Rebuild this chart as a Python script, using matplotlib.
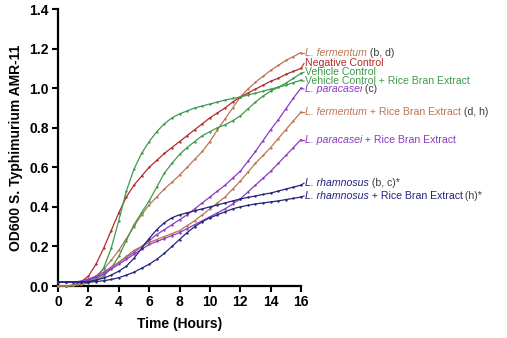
import numpy as np
import matplotlib
matplotlib.use("Agg")
import matplotlib.pyplot as plt

plt.rcParams['font.family'] = ['Liberation Sans', 'DejaVu Sans']

# Sampling times (hours)
time_h = np.arange(0, 16.01, 0.5)

# OD600 growth curves
negative_control = [0.0, 0.0, 0.005, 0.02, 0.05, 0.11, 0.19, 0.28, 0.37, 0.45, 0.51, 0.555, 0.6, 0.635,
                    0.67, 0.70, 0.73, 0.76, 0.79, 0.82, 0.85, 0.875, 0.9, 0.93, 0.955, 0.975, 0.995,
                    1.015, 1.035, 1.05, 1.07, 1.085, 1.10]
vehicle_control = [0.0, 0.0, 0.003, 0.008, 0.015, 0.03, 0.05, 0.09, 0.15, 0.23, 0.31, 0.37, 0.43, 0.5,
                   0.57, 0.62, 0.665, 0.70, 0.73, 0.76, 0.78, 0.80, 0.815, 0.835, 0.86, 0.895, 0.93,
                   0.96, 0.985, 1.005, 1.025, 1.05, 1.075]
vehicle_rbe = [0.0, 0.0, 0.003, 0.01, 0.02, 0.04, 0.09, 0.19, 0.33, 0.48, 0.59, 0.67, 0.73, 0.78,
               0.82, 0.85, 0.87, 0.885, 0.9, 0.91, 0.92, 0.93, 0.94, 0.948, 0.955, 0.965, 0.975,
               0.985, 0.995, 1.005, 1.015, 1.028, 1.04]
fermentum = [0.0, 0.0, 0.003, 0.01, 0.025, 0.05, 0.085, 0.13, 0.18, 0.24, 0.30, 0.36, 0.41, 0.45,
             0.49, 0.525, 0.56, 0.60, 0.64, 0.68, 0.73, 0.79, 0.845, 0.90, 0.955, 0.995, 1.03,
             1.06, 1.09, 1.115, 1.14, 1.16, 1.18]
fermentum_rbe = [0.0, 0.0, 0.003, 0.008, 0.018, 0.035, 0.06, 0.09, 0.12, 0.15, 0.18, 0.20, 0.22, 0.235,
                 0.25, 0.265, 0.28, 0.305, 0.33, 0.36, 0.39, 0.42, 0.45, 0.49, 0.53, 0.575, 0.62,
                 0.66, 0.70, 0.745, 0.79, 0.835, 0.88]
paracasei = [0.02, 0.02, 0.02, 0.025, 0.035, 0.05, 0.07, 0.095, 0.12, 0.145, 0.17, 0.2, 0.23, 0.26,
             0.285, 0.31, 0.335, 0.36, 0.39, 0.42, 0.45, 0.48, 0.51, 0.545, 0.58, 0.63, 0.68,
             0.735, 0.79, 0.84, 0.895, 0.95, 1.0]
paracasei_rbe = [0.02, 0.02, 0.02, 0.022, 0.03, 0.045, 0.06, 0.085, 0.11, 0.135, 0.16, 0.185, 0.21, 0.225,
                 0.24, 0.255, 0.27, 0.29, 0.31, 0.33, 0.35, 0.37, 0.39, 0.415, 0.44, 0.475, 0.51,
                 0.545, 0.58, 0.62, 0.66, 0.70, 0.74]
rhamnosus = [0.02, 0.02, 0.02, 0.02, 0.022, 0.03, 0.04, 0.055, 0.075, 0.10, 0.14, 0.19, 0.24, 0.285,
             0.32, 0.345, 0.36, 0.37, 0.38, 0.39, 0.40, 0.41, 0.42, 0.43, 0.44, 0.448, 0.455,
             0.463, 0.47, 0.48, 0.49, 0.50, 0.51]
rhamnosus_rbe = [0.02, 0.02, 0.02, 0.02, 0.02, 0.022, 0.027, 0.033, 0.042, 0.055, 0.07, 0.09, 0.11, 0.135,
                 0.165, 0.2, 0.235, 0.27, 0.3, 0.325, 0.345, 0.36, 0.375, 0.39, 0.40, 0.408, 0.415,
                 0.42, 0.425, 0.43, 0.437, 0.443, 0.45]

BROWN = '#bb7552'
RED = '#b02c2c'
GREEN = '#3f9a4c'
PURPLE = '#8a3cc2'
NAVY = '#23237e'
GRAY = '#3a3a3a'

# (values, colour, label y, label parts: (text, italic, colour))
series = [
    (fermentum, BROWN, 1.18, [("L. fermentum", True, BROWN), (" (b, d)", False, GRAY)]),
    (negative_control, RED, 1.125, [("Negative Control", False, RED)]),
    (vehicle_control, GREEN, 1.08, [("Vehicle Control", False, GREEN)]),
    (vehicle_rbe, GREEN, 1.035, [("Vehicle Control + Rice Bran Extract", False, GREEN)]),
    (paracasei, PURPLE, 0.995, [("L. paracasei", True, PURPLE), (" (c)", False, GRAY)]),
    (fermentum_rbe, BROWN, 0.88, [("L. fermentum", True, BROWN), (" + Rice Bran Extract", False, BROWN),
                                  (" (d, h)", False, GRAY)]),
    (paracasei_rbe, PURPLE, 0.74, [("L. paracasei", True, PURPLE), (" + Rice Bran Extract", False, PURPLE)]),
    (rhamnosus, NAVY, 0.52, [("L. rhamnosus", True, NAVY), (" (b, c)*", False, GRAY)]),
    (rhamnosus_rbe, NAVY, 0.455, [("L. rhamnosus", True, NAVY), (" + Rice Bran Extract", False, NAVY),
                                  (" (h)*", False, GRAY)]),
]

fig = plt.figure(figsize=(5.07, 3.38), dpi=100)
ax = fig.add_axes([0.1144, 0.1538, 0.4793, 0.8195])

LABEL_SIZE = 7.6
label_x = 16.25

for values, color, ly, parts in series:
    ax.plot(time_h, values, color=color, lw=0.9, marker='o', markersize=1.7,
            markeredgewidth=0, clip_on=False, zorder=3)
    # connector from the last point to the label
    ax.plot([time_h[-1], label_x - 0.05], [values[-1], ly], color=color, lw=0.8,
            clip_on=False, zorder=3)
    prev = None
    for txt, italic, tcolor in parts:
        style = 'italic' if italic else 'normal'
        if prev is None:
            prev = ax.text(label_x, ly, txt, color=tcolor, fontsize=LABEL_SIZE, style=style,
                           ha='left', va='center', clip_on=False)
        else:
            prev = ax.annotate(txt, xy=(1, 0), xycoords=prev, color=tcolor,
                               fontsize=LABEL_SIZE, style=style, ha='left', va='bottom',
                               annotation_clip=False)

ax.set_xlim(0, 16)
ax.set_ylim(0, 1.4)
ax.set_xticks(np.arange(0, 17, 2))
ax.set_yticks(np.round(np.arange(0, 1.41, 0.2), 1))
ax.set_yticklabels([f"{v:.1f}" for v in np.arange(0, 1.41, 0.2)])

for side in ('top', 'right'):
    ax.spines[side].set_visible(False)
for side in ('left', 'bottom'):
    ax.spines[side].set_linewidth(1.6)
    ax.spines[side].set_color('black')

ax.tick_params(axis='both', direction='out', length=4.5, width=1.5, labelsize=10, pad=2)
for lab in ax.get_xticklabels() + ax.get_yticklabels():
    lab.set_fontweight('bold')

ax.set_xlabel("Time (Hours)", fontsize=10, fontweight='bold', labelpad=6)
ax.set_ylabel("OD600 S. Typhimurium AMR-11", fontsize=10, fontweight='bold', labelpad=5)

fig.savefig("out.png", dpi=100)
